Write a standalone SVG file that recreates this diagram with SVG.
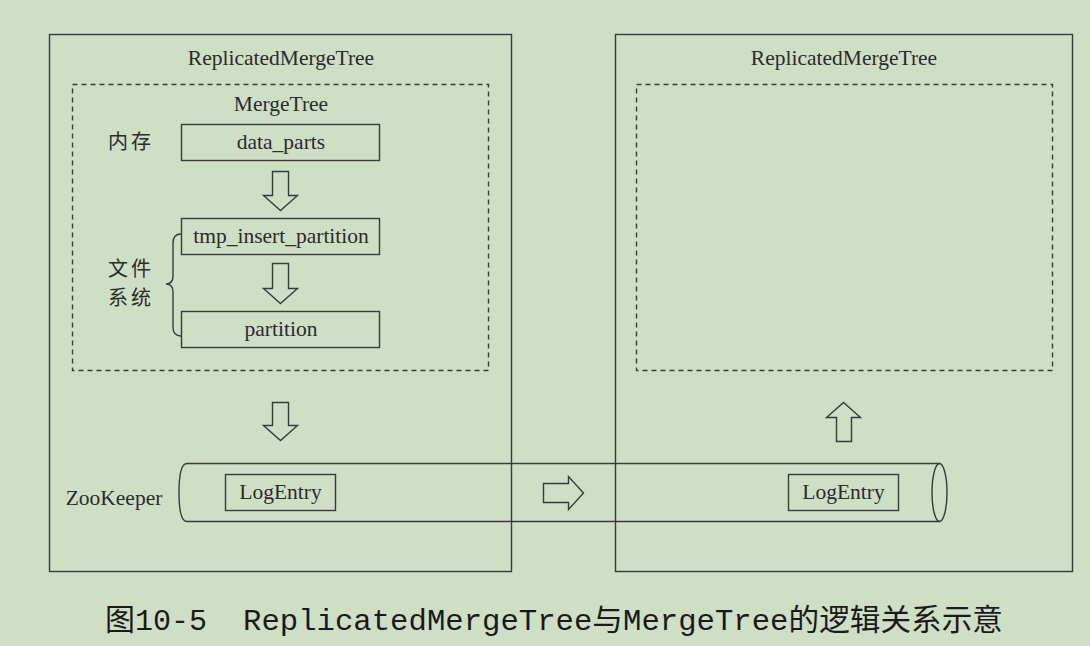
<svg xmlns="http://www.w3.org/2000/svg" width="1090" height="646" viewBox="0 0 1090 646">
<style>
.box{fill:none;stroke:#3a3a3a;stroke-width:1.4}
.dash{fill:none;stroke:#3a3a3a;stroke-width:1.4;stroke-dasharray:5,4}
.arr{fill:none;stroke:#3a3a3a;stroke-width:1.4;stroke-linejoin:miter}
.t{font-family:"Liberation Serif","Noto Sans CJK SC",serif;font-size:21.5px;fill:#2b2b2b;text-anchor:middle}
.c{font-family:"Noto Sans CJK SC",sans-serif;font-size:20px;fill:#2b2b2b}
.cap{font-family:"Liberation Mono","Noto Sans CJK SC",monospace;font-size:30px;fill:#1a1a1a}
</style>
<rect width="1090" height="646" fill="#cedfc5"/>
<g id="left-replica">
<rect class="box" x="49.5" y="34.5" width="462" height="537"/>
<text class="t" x="281" y="65">ReplicatedMergeTree</text>
</g>
<g id="left-mergetree">
<rect class="dash" x="72.5" y="84.5" width="416" height="286"/>
<text class="t" x="281" y="111">MergeTree</text>
</g>
<g id="data_parts">
<rect class="box" x="181.5" y="124.5" width="198" height="36"/>
<text class="t" x="281" y="149">data_parts</text>
</g>
<g id="tmp_insert_partition">
<rect class="box" x="181.5" y="218.5" width="198" height="36"/>
<text class="t" x="281" y="243">tmp_insert_partition</text>
</g>
<g id="partition">
<rect class="box" x="181.5" y="311.5" width="198" height="36"/>
<text class="t" x="281" y="336">partition</text>
</g>
<g id="labels">
<text class="c" x="108" y="149" textLength="43">内存</text>
<text class="c"><tspan x="108" y="275.5" textLength="43">文件</tspan><tspan x="108" y="304.5" textLength="43">系统</tspan></text>
<path class="arr" d="M181,234 Q173,234 173,243 L173,276 Q173,284 166,284 Q173,284 173,292 L173,327 Q173,336 181,336"/>
</g>
<g id="right-replica">
<rect class="box" x="615.5" y="34.5" width="457" height="537"/>
<text class="t" x="844" y="65">ReplicatedMergeTree</text>
<rect class="dash" x="636.5" y="84.5" width="416" height="286"/>
</g>
<g id="zookeeper">
<path class="box" d="M940,463.5 L187,463.5 Q179,463.5 179,492.5 Q179,521.5 187,521.5 L940,521.5"/>
<ellipse class="box" cx="939.5" cy="492.5" rx="7.5" ry="29"/>
<text class="t" x="114" y="505">ZooKeeper</text>
</g>
<g id="logentry-left">
<rect class="box" x="225.5" y="474.5" width="110" height="36"/>
<text class="t" x="280.5" y="499">LogEntry</text>
</g>
<g id="logentry-right">
<rect class="box" x="788.5" y="474.5" width="110" height="36"/>
<text class="t" x="843.5" y="499">LogEntry</text>
</g>
<g id="connectors">
<path class="arr" d="M272.5,171.5 H288.5 V195.5 H297.5 L280.5,210.5 L263.5,195.5 H272.5 Z"/>
<path class="arr" d="M272.5,263.5 H288.5 V288.5 H297.5 L280.5,303.5 L263.5,288.5 H272.5 Z"/>
<path class="arr" d="M272.5,402.5 H288.5 V425.5 H297.5 L280.5,440.5 L263.5,425.5 H272.5 Z"/>
<path class="arr" d="M543.5,483.5 H568.5 V476.5 L583.5,493 L568.5,509.5 V502.5 H543.5 Z"/>
<path class="arr" d="M836.5,441.5 V417.5 H826.5 L843.5,402.5 L860.5,417.5 H851.5 V441.5 Z"/>
</g>
<text class="cap" y="630"><tspan x="105" textLength="102" lengthAdjust="spacingAndGlyphs">图10-5</tspan><tspan x="243" textLength="760" lengthAdjust="spacingAndGlyphs">ReplicatedMergeTree与MergeTree的逻辑关系示意</tspan></text>
</svg>
